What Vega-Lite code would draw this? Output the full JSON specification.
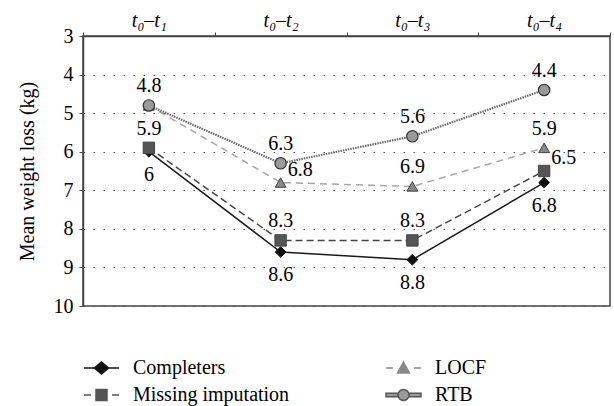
{
  "$schema": "https://vega.github.io/schema/vega-lite/v6.json",
  "width": 527,
  "height": 270,
  "autosize": {"type": "none"},
  "padding": {"left": 83, "top": 36, "right": 4, "bottom": 100},
  "config": {
    "font": "Liberation Serif",
    "view": {"stroke": "#444444", "strokeWidth": 1.5},
    "axis": {
      "labelFont": "Liberation Serif",
      "labelFontSize": 20,
      "labelColor": "#000000",
      "titleFont": "Liberation Serif",
      "titleFontSize": 20,
      "titleFontWeight": "normal",
      "titleColor": "#000000",
      "domainColor": "#444444",
      "domainWidth": 1.5,
      "tickColor": "#444444",
      "tickSize": 4
    },
    "legend": {
      "orient": "bottom",
      "columns": 2,
      "symbolSize": 400,
      "symbolStrokeWidth": 1.5,
      "symbolOpacity": 1,
      "labelOffset": 28,
      "labelFont": "Liberation Serif",
      "labelFontSize": 20,
      "labelColor": "#000000",
      "labelLimit": 300,
      "rowPadding": 6,
      "columnPadding": 93,
      "offset": 51,
      "padding": 0
    }
  },
  "data": {
    "values": [
      {"period": "t₀–t₁", "series": "Completers", "loss": 6},
      {"period": "t₀–t₂", "series": "Completers", "loss": 8.6},
      {"period": "t₀–t₃", "series": "Completers", "loss": 8.8},
      {"period": "t₀–t₄", "series": "Completers", "loss": 6.8},
      {"period": "t₀–t₁", "series": "Missing imputation", "loss": 5.9},
      {"period": "t₀–t₂", "series": "Missing imputation", "loss": 8.3},
      {"period": "t₀–t₃", "series": "Missing imputation", "loss": 8.3},
      {"period": "t₀–t₄", "series": "Missing imputation", "loss": 6.5},
      {"period": "t₀–t₁", "series": "LOCF", "loss": 4.8},
      {"period": "t₀–t₂", "series": "LOCF", "loss": 6.8},
      {"period": "t₀–t₃", "series": "LOCF", "loss": 6.9},
      {"period": "t₀–t₄", "series": "LOCF", "loss": 5.9},
      {"period": "t₀–t₁", "series": "RTB", "loss": 4.8},
      {"period": "t₀–t₂", "series": "RTB", "loss": 6.3},
      {"period": "t₀–t₃", "series": "RTB", "loss": 5.6},
      {"period": "t₀–t₄", "series": "RTB", "loss": 4.4}
    ]
  },
  "encoding": {
    "x": {
      "field": "period",
      "type": "nominal",
      "sort": ["t₀–t₁", "t₀–t₂", "t₀–t₃", "t₀–t₄"],
      "scale": {"type": "band", "paddingInner": 0, "paddingOuter": 0},
      "axis": {
        "orient": "top",
        "title": null,
        "labelAngle": 0,
        "labelFontStyle": "italic",
        "tickBand": "extent",
        "labelPadding": 2,
        "grid": false
      }
    },
    "y": {
      "field": "loss",
      "type": "quantitative",
      "scale": {"domain": [3, 10], "reverse": true, "nice": false, "zero": false},
      "axis": {
        "title": "Mean weight loss (kg)",
        "values": [3, 4, 5, 6, 7, 8, 9, 10],
        "labelPadding": 6,
        "titlePadding": 16,
        "grid": true,
        "gridDash": [1.5, 8.5],
        "gridColor": "#555555",
        "gridWidth": 1
      }
    }
  },
  "layer": [
    {
      "transform": [{"filter": "datum.series === 'LOCF'"}],
      "mark": {"type": "line", "color": "#a6a6a6", "strokeWidth": 1.5, "strokeDash": [7, 5]}
    },
    {
      "transform": [{"filter": "datum.series === 'Missing imputation'"}],
      "mark": {"type": "line", "color": "#444444", "strokeWidth": 1.5, "strokeDash": [7, 4]}
    },
    {
      "transform": [{"filter": "datum.series === 'Completers'"}],
      "mark": {"type": "line", "color": "#1a1a1a", "strokeWidth": 1.5}
    },
    {
      "transform": [{"filter": "datum.series === 'RTB'"}],
      "mark": {"type": "line", "color": "#666666", "strokeWidth": 2.2, "strokeDash": [1.5, 1]}
    },
    {
      "transform": [{"filter": "datum.series === 'Completers'"}],
      "mark": {"type": "point", "shape": "diamond", "size": 115, "filled": true, "fill": "#111111", "stroke": "#111111", "strokeWidth": 1, "opacity": 1}
    },
    {
      "transform": [{"filter": "datum.series === 'Missing imputation'"}],
      "mark": {"type": "point", "shape": "square", "size": 130, "filled": true, "fill": "#555555", "stroke": "#444444", "strokeWidth": 1, "opacity": 1}
    },
    {
      "transform": [{"filter": "datum.series === 'LOCF'"}],
      "mark": {"type": "point", "shape": "triangle-up", "size": 120, "filled": true, "fill": "#888888", "stroke": "#444444", "strokeWidth": 1, "opacity": 1}
    },
    {
      "transform": [{"filter": "datum.series === 'RTB'"}],
      "mark": {"type": "point", "shape": "circle", "size": 130, "filled": true, "fill": "#9a9a9a", "stroke": "#333333", "strokeWidth": 1.2, "opacity": 1}
    },
    {
      "transform": [{"filter": "datum.series === 'RTB' || (datum.series === 'Missing imputation' && datum.period !== 't₀–t₄') || (datum.series === 'LOCF' && (datum.period === 't₀–t₃' || datum.period === 't₀–t₄'))"}],
      "mark": {"type": "text", "font": "Liberation Serif", "fontSize": 20, "color": "#000000", "dy": -19, "baseline": "middle"},
      "encoding": {"text": {"field": "loss", "type": "quantitative"}}
    },
    {
      "transform": [{"filter": "datum.series === 'Completers'"}],
      "mark": {"type": "text", "font": "Liberation Serif", "fontSize": 20, "color": "#000000", "dy": 23, "baseline": "middle"},
      "encoding": {"text": {"field": "loss", "type": "quantitative"}}
    },
    {
      "transform": [{"filter": "(datum.series === 'LOCF' && datum.period === 't₀–t₂') || (datum.series === 'Missing imputation' && datum.period === 't₀–t₄')"}],
      "mark": {"type": "text", "font": "Liberation Serif", "fontSize": 20, "color": "#000000", "align": "left", "dx": 7, "dy": -13, "baseline": "middle"},
      "encoding": {"text": {"field": "loss", "type": "quantitative"}}
    },
    {
      "transform": [{"filter": "false"}],
      "mark": {"type": "point", "filled": true},
      "encoding": {
        "shape": {
          "field": "series",
          "type": "nominal",
          "title": null,
          "scale": {
            "domain": ["Completers", "LOCF", "Missing imputation", "RTB"],
            "range": [
              "M-1,0L2.5,0M0.75,-0.6L1.45,0L0.75,0.6L0.05,0Z",
              "M-1,0L-0.3,0M1.8,0L2.5,0M0.75,-0.6L1.35,0.5L0.15,0.5Z",
              "M-1,0L-0.3,0M1.8,0L2.5,0M0.2,-0.55L1.3,-0.55L1.3,0.55L0.2,0.55Z",
              "M-1,-0.18L0.2,-0.18L0.2,0.18L-1,0.18ZM1.3,-0.18L2.5,-0.18L2.5,0.18L1.3,0.18ZM1.3,0A0.55,0.55 0 1,1 0.2,0A0.55,0.55 0 1,1 1.3,0Z"
            ]
          }
        },
        "fill": {
          "field": "series",
          "type": "nominal",
          "title": null,
          "scale": {
            "domain": ["Completers", "LOCF", "Missing imputation", "RTB"],
            "range": ["#111111", "#888888", "#555555", "#9a9a9a"]
          }
        },
        "stroke": {
          "field": "series",
          "type": "nominal",
          "title": null,
          "scale": {
            "domain": ["Completers", "LOCF", "Missing imputation", "RTB"],
            "range": ["#111111", "#8a8a8a", "#555555", "#555555"]
          }
        }
      }
    }
  ]
}
